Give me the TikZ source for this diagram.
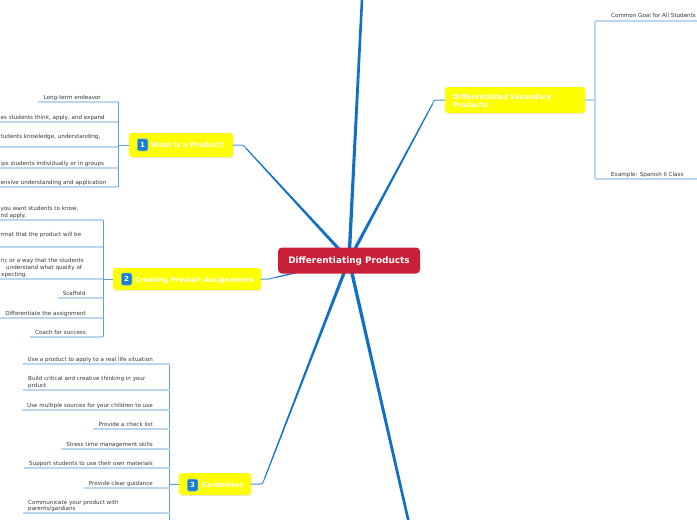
\documentclass[tikz,border=0pt]{standalone}
\usepackage{fontspec}
\setmainfont{DejaVu Sans}
\usetikzlibrary{calc,shadows}
\definecolor{mainblue}{RGB}{15,112,198}
\definecolor{thinblue}{RGB}{70,145,215}
\definecolor{midblue}{RGB}{96,158,215}
\definecolor{lightline}{RGB}{188,214,238}
\definecolor{centralred}{RGB}{200,32,56}
\definecolor{ybox}{RGB}{255,255,0}
\definecolor{leaftext}{RGB}{55,55,55}
\definecolor{badgeblue}{RGB}{25,125,210}
\tikzset{
  x=1pt, y=-1pt,
  central/.style={fill=centralred, rounded corners=4pt, text=white, font=\bfseries\fontsize{8.9}{10}\selectfont, minimum width=142pt, minimum height=26pt, inner sep=0pt, text height=6.5pt, text depth=0pt},
  topicbox/.style={fill=ybox, rounded corners=3pt, inner sep=0pt, drop shadow={shadow xshift=0.7pt, shadow yshift=-0.9pt, opacity=0.18}},
  topictext/.style={text=white, font=\bfseries\fontsize{6.9}{8}\selectfont, inner sep=0pt},
  badgebox/.style={fill=badgeblue, draw=badgeblue!60!white, line width=0.5pt, rounded corners=1.5pt, text=white, font=\bfseries\fontsize{7}{7}\selectfont, minimum width=10.5pt, minimum height=12pt, inner sep=0pt},
  leaf/.style={text=leaftext, font=\fontsize{5.6}{7}\selectfont, inner sep=0pt},
  thinbranch/.style={draw=thinblue, line width=1pt, line cap=round},
  bracket/.style={draw=midblue, line width=1pt},
  underl/.style={draw=lightline, line width=1.1pt},
}
\newcommand{\taper}[4]{\fill[mainblue] ($(#1)!#3!90:(#2)$) -- ($(#2)!#4!-90:(#1)$) -- ($(#2)!#4!90:(#1)$) -- ($(#1)!#3!-90:(#2)$) -- cycle;}
\begin{document}
\begin{tikzpicture}
\useasboundingbox (0,0) rectangle (697,520);
\clip (0,0) rectangle (697,520);
\fill[white] (0,0) rectangle (697,520);

% coordinates for main branches
\coordinate (c0) at (349,260);
\coordinate (ctop) at (362.2,-4);
\coordinate (cbot) at (409.6,526);
\coordinate (cwp) at (246.2,148.5);
\coordinate (ccpa) at (275,277.6);
\coordinate (cgl) at (264.4,479);
\coordinate (cdsp) at (432.5,104);

% main branches (tapered)
\taper{c0}{ctop}{1.7pt}{1.25pt}
\taper{c0}{cbot}{1.7pt}{1.3pt}
\taper{c0}{cwp}{1.7pt}{0.5pt}
\taper{c0}{ccpa}{1.5pt}{0.5pt}
\taper{c0}{cgl}{1.7pt}{0.5pt}
\taper{c0}{cdsp}{1.7pt}{0.5pt}

% topic boxes
\node[topicbox, minimum width=104pt, minimum height=24pt] (wp) at (181,145) {};
\node[badgebox] (wpb) at (142.5,144.8) {1};
\node[topictext, anchor=base west] (wpt) at (151,147.8) {What is a Product?};

\node[topicbox, minimum width=148pt, minimum height=22pt] (cpa) at (187,279) {};
\node[badgebox] (cpab) at (126.5,279) {2};
\node[topictext, anchor=base west] (cpat) at (135,282) {Creating Product Assignments};

\node[topicbox, minimum width=72pt, minimum height=22pt] (gl) at (215,484) {};
\node[badgebox] (glb) at (192.5,485) {3};
\node[topictext, anchor=base west] (glt) at (202,487.7) {Guidelines};

\node[topicbox, minimum width=140pt, minimum height=26pt] (dsp) at (515,100) {};
\node[topictext, anchor=base west] (dspt1) at (453,99.3) {Differentiated Secondary};
\node[topictext, anchor=base west] (dspt2) at (453,107.3) {Products};

% thin ends of branches
\draw[thinbranch] (wp.east) -- (240,145) .. controls (243,145) .. (cwp);
\draw[thinbranch] (cpa.east) -- (269,279) .. controls (272,279) .. (ccpa);
\draw[thinbranch] (gl.east) -- (259,484) .. controls (262.5,484) .. (cgl);
\draw[thinbranch] (dsp.west) -- (437,100) .. controls (434,100) .. (cdsp);

% central node
\node[central] (dp) at (349,260.5) {Differentiating Products};

% ---------- group 1: What is a Product?
\coordinate (v1) at (118,0);
\draw[bracket] (118,102) -- (118,187);
\draw[bracket] (wp.west) -- (wp.west -| v1);
\node[leaf, anchor=base east] (a1) at (101,99) {Long-term endeavor};
\node[leaf, anchor=base west] (a2) at (0.5,119) {es students think, apply, and expand};
\node[leaf, anchor=base west] (a3) at (0.5,138.3) {tudents knowledge, understanding,};
\node[leaf, anchor=base west] (a4) at (0.5,165) {ips students individually or in groups};
\node[leaf, anchor=base west] (a5) at (0.5,184) {ensive understanding and application};
\coordinate (u1) at ([shift={(-5pt,-3pt)}]a1.base west);
\draw[underl] (u1) -- (u1 -| v1);
\draw[underl] (-2,122) -- (118,122);
\draw[underl] (-2,147) -- (118,147);
\draw[underl] (-2,168) -- (118,168);
\draw[underl] (-2,187) -- (118,187);

% ---------- group 2: Creating Product Assignments
\coordinate (v2) at (103,0);
\draw[bracket] (103,220) -- (103,337);
\draw[bracket] (cpa.west) -- (cpa.west -| v2);
\node[leaf, anchor=base west] (b1a) at (0.5,210) {you want students to know,};
\node[leaf, anchor=base west] (b1b) at (0.5,217) {nd apply.};
\node[leaf, anchor=base west] (b2) at (0.5,236) {rmat that the product will be};
\node[leaf, anchor=base west] (b3a) at (0.5,262) {ric or a way that the students};
\node[leaf, anchor=base west] (b3b) at (6,269) {understand what quality of};
\node[leaf, anchor=base west] (b3c) at (1,276) {xpecting.};
\node[leaf, anchor=base east] (b4) at (85.5,295) {Scaffold};
\node[leaf, anchor=base east] (b5) at (86,315) {Differentiate the assignment};
\node[leaf, anchor=base east] (b6) at (86,334) {Coach for success};
\draw[underl] (-2,220) -- (103,220);
\draw[underl] (-2,247) -- (103,247);
\draw[underl] (-2,279) -- (103,279);
\coordinate (u4) at ([shift={(-5pt,-3pt)}]b4.base west);
\coordinate (u5) at ([shift={(-5pt,-3pt)}]b5.base west);
\coordinate (u6) at ([shift={(-5pt,-3pt)}]b6.base west);
\draw[underl] (u4) -- (u4 -| v2);
\draw[underl] (u5) -- (u5 -| v2);
\draw[underl] (u6) -- (u6 -| v2);

% ---------- group 3: Guidelines
\coordinate (v3) at (169.5,0);
\draw[bracket] (169.5,364) -- (169.5,525);
\draw[bracket] (gl.west) -- (gl.west -| v3);
\node[leaf, anchor=base east] (g1) at (153,361) {Use a product to apply to a real life situation};
\node[leaf, anchor=base west] (g2a) at (28,380) {Build critical and creative thinking in your};
\node[leaf, anchor=base west] (g2b) at (28,387) {prduct};
\node[leaf, anchor=base east] (g3) at (153,407) {Use multiple sources for your children to use};
\node[leaf, anchor=base east] (g4) at (153,426) {Provide a check list};
\node[leaf, anchor=base east] (g5) at (153,446) {Stress time management skills};
\node[leaf, anchor=base east] (g6) at (153,465) {Support students to use their own materials};
\node[leaf, anchor=base east] (g7) at (153,485) {Provide clear guidance};
\node[leaf, anchor=base west] (g8a) at (28,504) {Communicate your product with};
\node[leaf, anchor=base west] (g8b) at (28,510) {parents/gardians};
\coordinate (w1) at ([shift={(-5pt,-3pt)}]g1.base west);
\coordinate (w3) at ([shift={(-5pt,-3pt)}]g3.base west);
\coordinate (w4) at ([shift={(-5pt,-3pt)}]g4.base west);
\coordinate (w5) at ([shift={(-5pt,-3pt)}]g5.base west);
\coordinate (w6) at ([shift={(-5pt,-3pt)}]g6.base west);
\coordinate (w7) at ([shift={(-5pt,-3pt)}]g7.base west);
\coordinate (w8) at (23,513);
\coordinate (w2b) at (23,390);
\draw[underl] (w1) -- (w1 -| v3);
\draw[underl] (w2b) -- (w2b -| v3);
\draw[underl] (w3) -- (w3 -| v3);
\draw[underl] (w4) -- (w4 -| v3);
\draw[underl] (w5) -- (w5 -| v3);
\draw[underl] (w6) -- (w6 -| v3);
\draw[underl] (w7) -- (w7 -| v3);
\draw[underl] (w8) -- (w8 -| v3);

% ---------- right group: Differentiated Secondary Products
\coordinate (v4) at (595,0);
\draw[underl, line width=1.4pt] (595,21) -- (595,179);
\draw[underl, line width=1.4pt] (dsp.east) -- (dsp.east -| v4);
\node[leaf, anchor=base west] (r1) at (611,17) {Common Goal for All Students};
\node[leaf, anchor=base west] (r2) at (611,176) {Example: Spanish II Class};
\draw[underl] (595,21) -- (700,21);
\draw[underl] (595,179) -- (700,179);
\end{tikzpicture}
\end{document}
